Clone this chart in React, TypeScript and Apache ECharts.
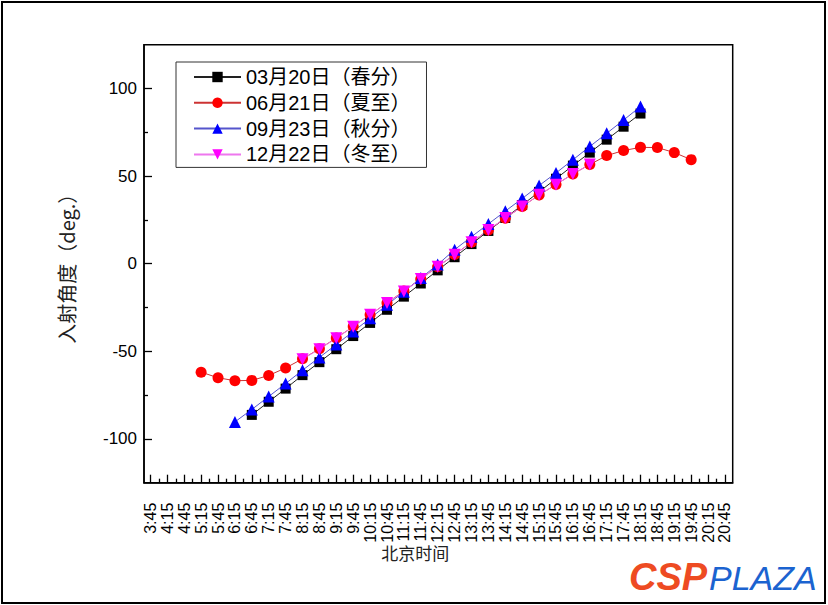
import React, { useEffect, useRef } from "react";
import * as echarts from "echarts";

const timeLabels = [
  "3:45", "4:15", "4:45", "5:15", "5:45", "6:15", "6:45", "7:15", "7:45", "8:15",
  "8:45", "9:15", "9:45", "10:15", "10:45", "11:15", "11:45", "12:15", "12:45", "13:15",
  "13:45", "14:15", "14:45", "15:15", "15:45", "16:15", "16:45", "17:15", "17:45", "18:15",
  "18:45", "19:15", "19:45", "20:15", "20:45",
];
const minorTimeLabels = [
  "4:00", "4:30", "5:00", "5:30", "6:00", "6:30", "7:00", "7:30", "8:00", "8:30",
  "9:00", "9:30", "10:00", "10:30", "11:00", "11:30", "12:00", "12:30", "13:00", "13:30",
  "14:00", "14:30", "15:00", "15:30", "16:00", "16:30", "17:00", "17:30", "18:00", "18:30",
  "19:00", "19:30", "20:00", "20:30",
];
const yMajorTicks = [-100, -50, 0, 50, 100];
const yMinorTicks = [-75, -25, 25, 75];

const seriesNames = ["03月20日（春分）", "06月21日（夏至）", "09月23日（秋分）", "12月22日（冬至）"];

const marchStart = "6:45";
const marchValues = [
  -86.3, -78.8, -71.3, -63.6, -56.2, -48.8, -41.3, -33.8, -26.3, -18.8, -11.3, -3.8,
  3.7, 11.2, 18.7, 26.1, 33.5, 41, 48.5, 56, 63.4, 70.8, 78.2, 85.7,
];
const juneStart = "5:15";
const juneValues = [
  -61.9, -65.1, -66.8, -66.6, -63.8, -59.5, -54.3, -48.6, -42.4, -35.9, -29.1, -22.4,
  -15.6, -8.7, -1.7, 5.2, 12.2, 19.2, 26, 32.6, 39.2, 45.2, 51.2, 56.6, 61.7, 64.6,
  66.4, 66.3, 63.4, 59.4,
];
const septStart = "6:15";
const septValues = [
  -90.3, -83.2, -75.8, -68.4, -60.8, -53.5, -46.1, -38.7, -31.2, -23.5, -16, -8.2,
  -0.5, 8, 15.4, 22.7, 30, 37.2, 44.6, 51.8, 59.3, 66.9, 74.4, 82, 89.7,
];
const decStart = "8:15";
const decValues = [
  -54.5, -48.8, -42.5, -36, -29.1, -22.5, -15.8, -8.8, -1.7, 5.1, 12.2, 19.3, 26.1,
  32.6, 39.3, 45.1, 51.2, 56.6,
];

const toMin = (t: string) => {
  const [h, m] = t.split(":").map(Number);
  return h * 60 + m;
};
const fmt = (v: number) => `${Math.floor(v / 60)}:${String(Math.round(v % 60)).padStart(2, "0")}`;
const build = (start: string, values: number[]) => {
  const s = timeLabels.indexOf(start);
  return values.map((v, i) => [toMin(timeLabels[s + i]), v]);
};

const FONT = "'Liberation Sans', Arial, 'Noto Sans CJK SC', sans-serif";
const CJK = "'Noto Sans CJK SC', 'Liberation Sans', sans-serif";

export default function App() {
  const ref = useRef<HTMLDivElement>(null);
  useEffect(() => {
    document.body.style.margin = "0";
    if (!ref.current) return;
    const chart = echarts.init(ref.current, null, { renderer: "svg" });
    const xMin = 213.6;
    const xMax = 1258.7;
    const majorX = timeLabels.map(toMin);
    const minorX = minorTimeLabels.map(toMin);
    const axisBase = {
      type: "value" as const,
      min: xMin,
      max: xMax,
      splitLine: { show: false },
    };
    chart.setOption({
      animation: false,
      backgroundColor: "#fff",
      grid: {
        left: 144,
        top: 44.7,
        right: 95.3,
        bottom: 122.3,
        show: true,
        borderColor: "#000",
        borderWidth: 1.5,
        containLabel: false,
        outerBoundsMode: "none",
      },
      legend: {
        orient: "vertical",
        left: 176,
        top: 62,
        padding: [5, 16, 3, 17],
        itemWidth: 47,
        itemHeight: 13,
        itemGap: 5.8,
        backgroundColor: "#fff",
        borderColor: "#333",
        borderWidth: 1,
        data: seriesNames,
        textStyle: { fontSize: 20, color: "#000", fontFamily: FONT, lineHeight: 20 },
      },
      xAxis: [
        {
          ...axisBase,
          position: "bottom",
          axisLine: { show: true, onZero: false, lineStyle: { color: "#000", width: 1.5 } },
          axisTick: { show: true, inside: true, length: 8, customValues: majorX, lineStyle: { color: "#000", width: 1.3 } },
          axisLabel: {
            customValues: majorX,
            interval: 0,
            rotate: 90,
            margin: 20,
            fontSize: 16,
            color: "#000",
            fontFamily: FONT,
            formatter: (v: number) => fmt(v),
          },
          name: "北京时间",
          nameLocation: "middle",
          nameGap: 61,
          nameMoveOverlap: false,
          nameTextStyle: { fontSize: 17, color: "#222", fontFamily: CJK, padding: [0, 46, 0, 0] },
        },
        {
          ...axisBase,
          position: "bottom",
          axisLine: { show: false, onZero: false },
          axisTick: { show: true, inside: true, length: 4, customValues: minorX, lineStyle: { color: "#000", width: 1.3 } },
          axisLabel: { show: false },
        },
      ],
      yAxis: [
        {
          type: "value",
          min: -125,
          max: 125,
          interval: 25,
          splitLine: { show: false },
          axisLine: { show: true, onZero: false, lineStyle: { color: "#000", width: 1.5 } },
          axisTick: { show: true, inside: true, length: 8, customValues: yMajorTicks, lineStyle: { color: "#000", width: 1.3 } },
          axisLabel: { customValues: yMajorTicks, fontSize: 17, color: "#000", margin: 7, fontFamily: FONT },
          name: "入射角度（deg.）",
          nameLocation: "middle",
          nameGap: 68,
          nameMoveOverlap: false,
          nameTextStyle: { fontSize: 20, color: "#222", fontFamily: CJK },
        },
        {
          type: "value",
          min: -125,
          max: 125,
          interval: 25,
          position: "left",
          splitLine: { show: false },
          axisLine: { show: false, onZero: false },
          axisTick: { show: true, inside: true, length: 4, customValues: yMinorTicks, lineStyle: { color: "#000", width: 1.3 } },
          axisLabel: { show: false },
        },
      ],
      series: [
        {
          name: seriesNames[0],
          type: "line",
          data: build(marchStart, marchValues),
          symbol: "rect",
          symbolSize: 10,
          itemStyle: { color: "#000" },
          lineStyle: { color: "#222", width: 1 },
        },
        {
          name: seriesNames[1],
          type: "line",
          data: build(juneStart, juneValues),
          symbol: "circle",
          symbolSize: 11,
          itemStyle: { color: "#ff0000" },
          lineStyle: { color: "#cc3333", width: 1 },
        },
        {
          name: seriesNames[2],
          type: "line",
          data: build(septStart, septValues),
          symbol: "triangle",
          symbolSize: 12,
          itemStyle: { color: "#0000ff" },
          lineStyle: { color: "#5555cc", width: 1 },
        },
        {
          name: seriesNames[3],
          type: "line",
          data: build(decStart, decValues),
          symbol: "triangle",
          symbolRotate: 180,
          symbolSize: 12,
          itemStyle: { color: "#ff00ff" },
          lineStyle: { color: "#ee77ee", width: 1 },
        },
      ],
      graphic: [
        {
          type: "text",
          left: 629,
          top: 558,
          style: {
            text: "CSP",
            fontSize: 38,
            fontWeight: 900,
            fontStyle: "italic",
            fontFamily: FONT,
            fill: "#EE4B22",
          },
        },
        {
          type: "text",
          left: 709,
          top: 561,
          style: {
            text: "PLAZA",
            fontSize: 34,
            fontStyle: "italic",
            fontFamily: FONT,
            fill: "#1B63D0",
          },
        },
      ],
    });
    return () => chart.dispose();
  }, []);
  return (
    <div style={{ position: "relative", width: 828, height: 605, background: "#fff" }}>
      <div ref={ref} style={{ position: "absolute", left: 0, top: 0, width: 828, height: 605 }} />
      <div
        style={{
          position: "absolute",
          left: 1,
          top: 1,
          width: 821,
          height: 599,
          border: "2.5px solid #000",
          pointerEvents: "none",
        }}
      />
    </div>
  );
}
